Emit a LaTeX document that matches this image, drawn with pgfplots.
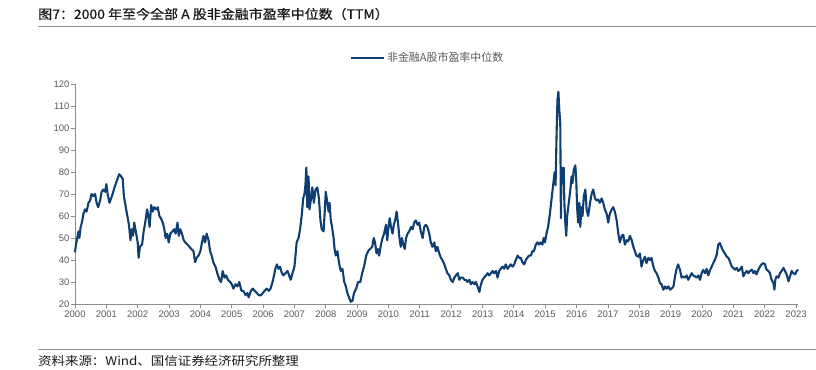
\documentclass[border=0pt]{standalone}
\usepackage{fontspec}
\setmainfont{Liberation Sans}
\newfontfamily\cjk{Noto Sans CJK SC}
\newfontfamily\cjkb[FakeBold=0.6]{Noto Sans CJK SC}
\usepackage{pgfplots}
\pgfplotsset{compat=1.18}
\usepackage{pgfplotstable}
\definecolor{navy}{RGB}{15,62,115}
\definecolor{axgray}{RGB}{140,140,140}
\definecolor{lblgray}{RGB}{89,89,89}
\definecolor{rulegray}{RGB}{150,150,150}

\pgfplotstableread{
x y
2000.00 43.5
2000.03 47
2000.06 49
2000.11 53
2000.14 50
2000.18 55
2000.22 57
2000.27 61
2000.32 63
2000.37 62
2000.43 66
2000.48 67
2000.53 70
2000.59 69
2000.64 70
2000.69 66
2000.74 64
2000.80 67
2000.85 71
2000.90 72
2000.96 71
2001.00 74.5
2001.04 70
2001.10 66
2001.15 68
2001.20 70
2001.26 73
2001.31 75
2001.36 77
2001.41 79
2001.47 78
2001.52 77
2001.56 69
2001.62 64
2001.67 60
2001.72 56
2001.77 49
2001.81 54
2001.85 51
2001.89 57
2001.95 52
2002.00 48
2002.03 41
2002.07 46
2002.14 47
2002.19 53
2002.24 57
2002.30 63
2002.34 60
2002.38 55
2002.43 65
2002.48 62
2002.53 64
2002.59 63
2002.64 64
2002.69 60
2002.74 59
2002.80 57
2002.85 54
2002.89 50
2002.94 52
2002.99 48
2003.04 52
2003.11 53
2003.16 54
2003.21 52
2003.27 57
2003.31 51
2003.36 54
2003.41 52
2003.47 49
2003.52 48
2003.59 47
2003.65 46
2003.71 45
2003.78 44
2003.83 39
2003.88 41
2003.94 42
2004.00 44
2004.05 48
2004.10 51
2004.15 48
2004.20 52
2004.26 49
2004.31 44
2004.36 42
2004.41 39
2004.48 37
2004.54 34
2004.61 31
2004.66 30
2004.71 35
2004.77 32
2004.82 33
2004.88 31
2004.95 30
2005.00 29
2005.05 27
2005.12 29
2005.18 28
2005.24 30
2005.31 26
2005.37 26
2005.44 24
2005.50 25
2005.54 23
2005.61 26
2005.67 27
2005.73 26
2005.80 25
2005.86 24
2005.93 24
2005.99 25
2006.05 26
2006.12 27
2006.18 26
2006.24 27
2006.30 30
2006.35 33
2006.39 36
2006.44 38
2006.49 36
2006.54 37
2006.60 34
2006.65 33
2006.71 34
2006.78 35
2006.83 33
2006.88 31
2006.94 34
2007.00 37
2007.04 43
2007.07 48
2007.13 50
2007.18 54
2007.23 60
2007.28 68
2007.32 70
2007.35 74
2007.38 82
2007.41 64
2007.45 78
2007.48 63
2007.52 67
2007.57 73
2007.62 66
2007.67 72
2007.73 73
2007.78 68
2007.83 58
2007.87 54
2007.93 53
2007.97 63
2008.00 71
2008.03 68
2008.09 62
2008.12 66
2008.16 58
2008.20 55
2008.25 50
2008.28 45
2008.32 42
2008.37 44
2008.43 38
2008.48 35
2008.53 36
2008.59 30
2008.64 28
2008.69 25
2008.74 23
2008.80 21
2008.85 21.5
2008.90 25
2008.97 27
2009.03 30
2009.10 30
2009.16 34
2009.22 37
2009.29 42
2009.35 44
2009.41 45
2009.48 46
2009.53 50
2009.57 48
2009.62 43
2009.66 45
2009.70 42
2009.76 47
2009.81 50
2009.86 52
2009.92 56
2009.96 49
2010.00 55
2010.04 59
2010.08 55
2010.13 52
2010.17 56
2010.21 58
2010.26 62
2010.31 56
2010.35 50
2010.39 46
2010.43 50
2010.47 47
2010.52 45
2010.56 50
2010.61 52
2010.66 53
2010.72 55
2010.77 54
2010.82 57
2010.87 58
2010.93 56
2010.98 57
2011.03 53
2011.09 50
2011.14 55
2011.19 56
2011.24 55
2011.30 52
2011.35 48
2011.40 46
2011.46 48
2011.51 44
2011.56 46
2011.62 43
2011.67 41
2011.72 40
2011.78 38
2011.83 36
2011.88 34
2011.94 33
2011.99 31
2012.05 30
2012.10 32
2012.15 33
2012.21 34
2012.26 31
2012.31 32
2012.37 32
2012.42 31
2012.47 31
2012.52 30
2012.58 31
2012.63 29
2012.68 30
2012.74 29
2012.79 30
2012.84 28
2012.90 25.5
2012.95 29
2013.00 31
2013.05 32
2013.11 33
2013.16 34
2013.21 33
2013.27 34
2013.32 35
2013.37 34
2013.43 35
2013.48 32
2013.53 35
2013.58 36
2013.64 37
2013.69 36
2013.74 38
2013.80 36
2013.85 37
2013.90 38
2013.96 37
2014.01 38
2014.06 40
2014.12 42
2014.17 41
2014.22 41
2014.27 39
2014.33 38
2014.38 40
2014.43 41
2014.48 42
2014.54 42
2014.59 44
2014.64 44
2014.70 47
2014.75 48
2014.80 47
2014.85 48
2014.91 47
2014.95 50
2014.99 48
2015.04 52
2015.09 55
2015.14 60
2015.18 65
2015.22 70
2015.26 75
2015.30 80
2015.33 74
2015.36 96
2015.39 113
2015.42 116.5
2015.45 108
2015.48 102
2015.50 59
2015.52 82
2015.55 75
2015.59 82
2015.61 66
2015.64 57
2015.67 51
2015.70 60
2015.76 67
2015.81 73
2015.84 78
2015.87 75
2015.91 81
2015.96 83
2015.99 76
2016.02 63
2016.05 57
2016.09 66
2016.12 55
2016.15 64
2016.19 60
2016.23 69
2016.28 72
2016.32 63
2016.37 60
2016.43 66
2016.48 70
2016.53 72
2016.59 68
2016.64 67
2016.69 67.5
2016.74 66
2016.80 68
2016.85 66
2016.90 63
2016.96 61
2017.01 57
2017.06 61
2017.12 63
2017.17 64
2017.22 62
2017.28 58
2017.33 52
2017.38 48
2017.44 51
2017.49 51.5
2017.54 47
2017.60 49
2017.65 48.5
2017.70 51
2017.76 49
2017.81 46
2017.86 44
2017.91 42
2017.97 41.5
2018.02 43
2018.07 37
2018.13 40
2018.18 41.5
2018.23 38.6
2018.29 41
2018.34 40
2018.39 41
2018.45 37
2018.50 35
2018.55 34
2018.61 32
2018.66 29.5
2018.71 29
2018.77 26.5
2018.82 28
2018.87 27
2018.93 28
2018.98 26.5
2019.03 27
2019.09 28
2019.14 32.5
2019.19 36
2019.24 38
2019.30 35.5
2019.35 32
2019.40 32.5
2019.46 32
2019.51 33
2019.56 31
2019.62 32.5
2019.67 34
2019.72 33
2019.78 32.5
2019.83 32
2019.88 33
2019.94 31
2019.99 34
2020.04 35.5
2020.10 34
2020.15 36
2020.20 33
2020.26 35.5
2020.31 37
2020.36 38.6
2020.41 40
2020.47 42.4
2020.52 47
2020.57 47.7
2020.63 45.5
2020.68 44
2020.73 43
2020.79 41.5
2020.84 41
2020.89 39.4
2020.95 37
2021.00 36.4
2021.05 35.6
2021.11 36.4
2021.16 35
2021.21 35.6
2021.27 37
2021.32 32.6
2021.37 34
2021.43 35
2021.48 34
2021.53 35
2021.59 35.6
2021.64 34
2021.69 35
2021.74 33.5
2021.80 35.6
2021.85 37
2021.90 38
2021.96 38.6
2022.01 38
2022.06 35.6
2022.12 35
2022.17 34
2022.22 31
2022.28 29.5
2022.31 26.5
2022.34 31
2022.38 32.6
2022.44 32
2022.49 34
2022.54 35
2022.60 36.4
2022.65 35
2022.70 33.5
2022.76 30.3
2022.81 32.6
2022.86 35
2022.91 34
2022.97 33.5
2023.02 35
2023.07 35.6
}\petable

\begin{document}
\begin{tikzpicture}[x=1bp,y=1bp]
\path[use as bounding box] (0,0) rectangle (816,369);
\node[anchor=west, inner sep=0, text=black!90] at (38,355) {\scalebox{1.08}[1]{\cjkb\fontsize{13}{15}\selectfont 图7：2000 年至今全部 A 股非金融市盈率中位数（TTM）}};
\draw[rulegray, line width=0.8bp] (38,343) -- (816,343);
\draw[rulegray, line width=0.8bp] (38,20) -- (816,20);
\node[anchor=west, inner sep=0, text=black!90] at (38,8) {\scalebox{1.125}[1]{\cjk\fontsize{12}{14}\selectfont 资料来源：Wind、国信证券经济研究所整理}};
\begin{axis}[
  at={(75bp,65bp)}, anchor=south west,
  scale only axis, width=723.2bp, height=220bp,
  xmin=2000, xmax=2023.07, ymin=20, ymax=120,
  axis x line=bottom, axis y line=left,
  axis line style={draw=axgray, line width=0.8bp, -},
  xtick={2000,2001,...,2023}, ytick={20,30,...,120},
  tick align=outside, major tick length=4bp,
  tick style={draw=axgray, line width=0.8bp},
  /pgf/number format/assume math mode=true,
  /pgf/number format/1000 sep={},
  ticklabel style={font=\fontsize{9.5}{11}\selectfont, text=lblgray},
  yticklabel style={inner sep=1.5bp},
  xticklabel style={inner sep=2bp, yshift=-1bp},
  legend style={at={(0.4876,1.118)}, anchor=center, draw=none, fill=none,
    font=\cjk\fontsize{11}{13}\selectfont, text=lblgray, inner sep=0pt},
  legend image code/.code={\draw[#1] (0bp,0bp) -- (33bp,0bp);},
  clip=false,
]
\addplot[navy, line width=2.1bp, line join=round] table[x=x,y=y] {\petable};
\addlegendentry{非金融A股市盈率中位数}
\end{axis}
\end{tikzpicture}
\end{document}
